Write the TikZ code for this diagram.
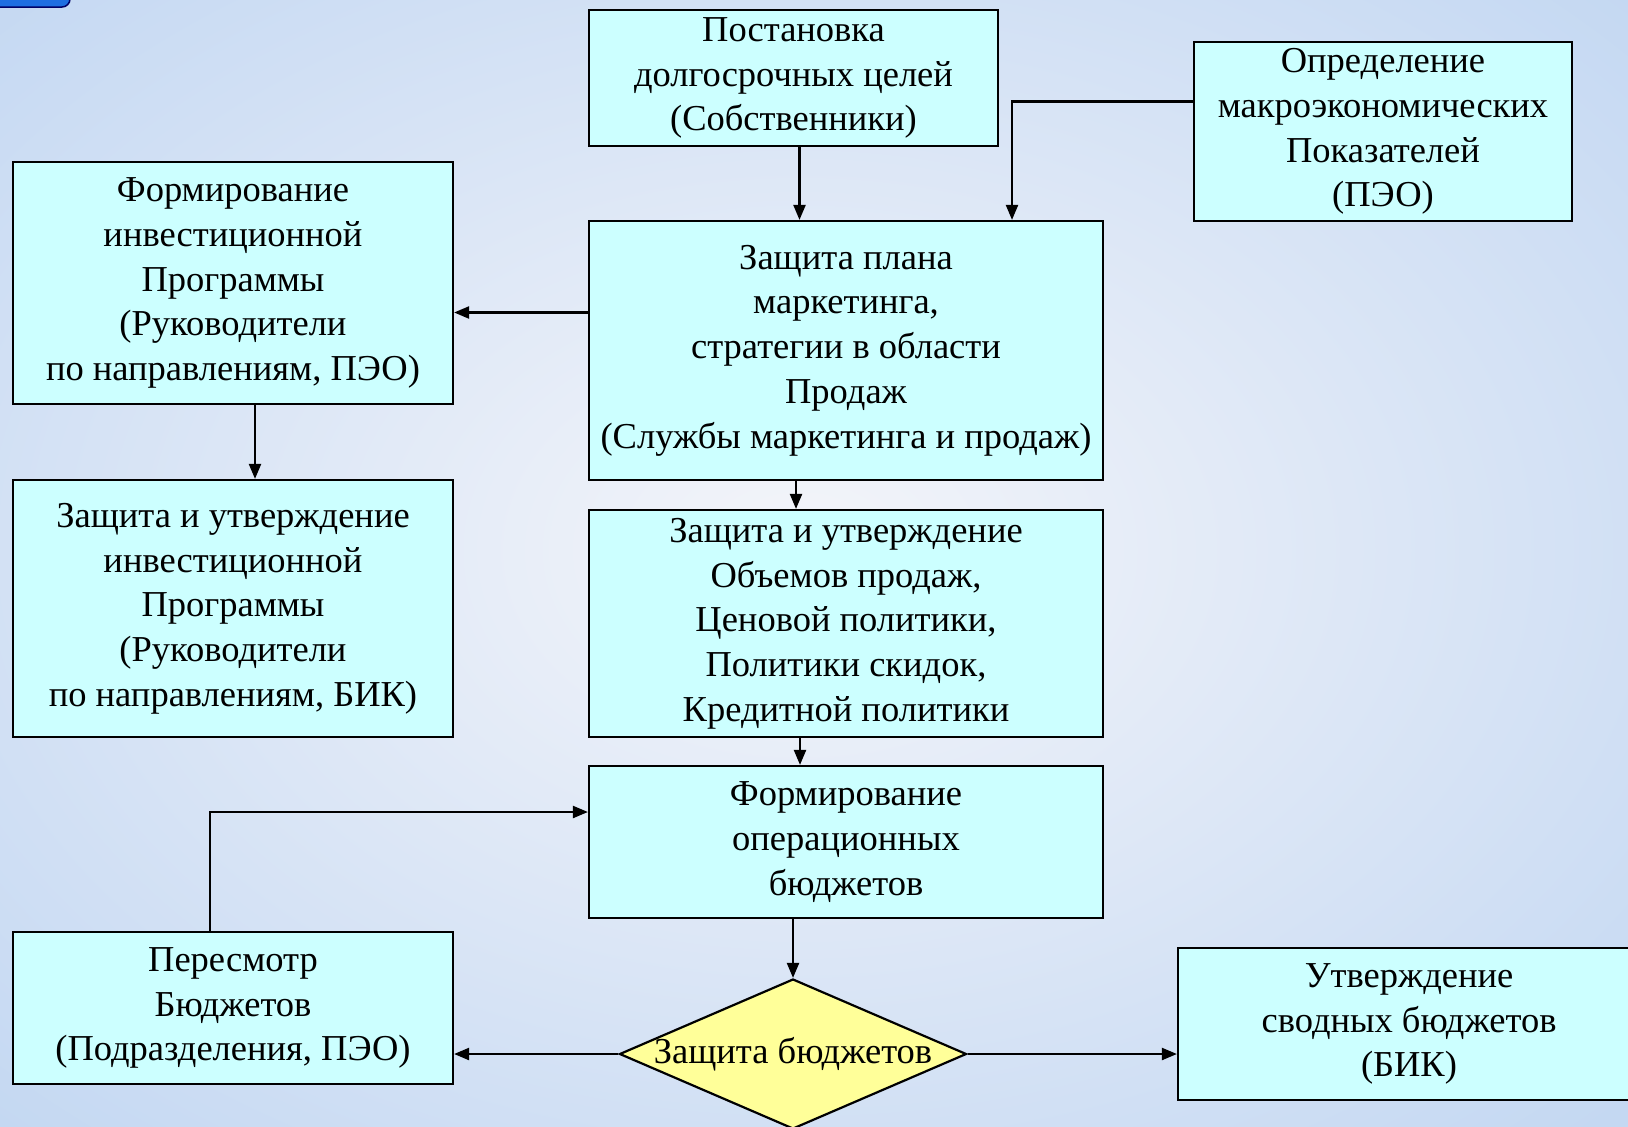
\documentclass[tikz,border=0pt]{standalone}
\usepackage{fontspec}
\setmainfont{Liberation Serif}
\usetikzlibrary{arrows.meta}
\usetikzlibrary{shapes.geometric}
\usepackage{xcolor}

\definecolor{boxcyan}{RGB}{204,255,255}
\definecolor{diayellow}{RGB}{255,255,153}
\definecolor{bgblue}{RGB}{196,216,242}
\definecolor{bgwhite}{RGB}{244,245,250}
\definecolor{blobblue}{RGB}{30,110,225}

\begin{document}
\begin{tikzpicture}[x=1pt, y=-1pt,
  stagebox/.style={draw, line width=2.2pt, fill=boxcyan, inner sep=0pt, align=center,
    font=\fontsize{36.5}{44.7}\selectfont},
  arr/.style={line width=2.2pt, -{Triangle[length=15pt,width=12pt]}}]

  \useasboundingbox (0,0) rectangle (1628,1127);
  \fill[bgblue] (0,0) rectangle (1628,1127);
  \shade[inner color=bgwhite, outer color=bgblue] (-350,-250) rectangle (1950,1350);
  \draw[fill=blobblue, draw=blue!40!black, line width=1.5pt, rounded corners=8pt] (-20,-20) rectangle (70,7);

  \node[stagebox, minimum width=409, minimum height=136] (post) at (793.5,78)
    {Постановка\\долгосрочных целей\\(Собственники)};
  \node[stagebox, minimum width=378, minimum height=179] (opr) at (1383,131.5)
    {Определение\\макроэкономических\\Показателей\\(ПЭО)};
  \node[stagebox, minimum width=440, minimum height=242] (forminv) at (233,283)
    {Формирование\\инвестиционной\\Программы\\(Руководители\\по направлениям, ПЭО)};
  \node[stagebox, minimum width=514, minimum height=259] (plan) at (846,350.5)
    {Защита плана\\маркетинга,\\стратегии в области\\Продаж\\(Службы маркетинга и продаж)};
  \node[stagebox, minimum width=440, minimum height=257] (zashinv) at (233,608.5)
    {Защита и утверждение\\инвестиционной\\Программы\\(Руководители\\по направлениям, БИК)};
  \node[stagebox, minimum width=514, minimum height=227] (obyem) at (846,623.5)
    {Защита и утверждение\\Объемов продаж,\\Ценовой политики,\\Политики скидок,\\Кредитной политики};
  \node[stagebox, minimum width=514, minimum height=152] (formop) at (846,842)
    {Формирование\\операционных\\бюджетов};
  \node[stagebox, minimum width=440, minimum height=152] (peresm) at (233,1008)
    {Пересмотр\\Бюджетов\\(Подразделения, ПЭО)};
  \node[stagebox, minimum width=462, minimum height=152] (utv) at (1409,1024)
    {Утверждение\\сводных бюджетов\\(БИК)};
  \node[diamond, draw, line width=2.2pt, fill=diayellow, inner sep=0pt,
    minimum width=347, minimum height=150] (dia) at (793,1054) {};
  \node[font=\fontsize{36.5}{44.7}\selectfont] (diatext) at (dia) {Защита бюджетов};

  \draw[arr] ([xshift=6pt]post.south) -- ([xshift=6pt]post.south |- plan.north);
  \draw[arr] ([yshift=30pt]opr.west) -| ([xshift=166pt]plan.north);
  \draw[arr] ([yshift=38pt]plan.west) -- ([yshift=38pt]plan.west -| forminv.east);
  \draw[arr] ([xshift=22pt]forminv.south) -- ([xshift=22pt]zashinv.north);
  \draw[arr] ([xshift=-50pt]plan.south) -- ([xshift=-50pt]obyem.north);
  \draw[arr] ([xshift=-46pt]obyem.south) -- ([xshift=-46pt]formop.north);
  \draw[arr] (formop.south -| dia.north) -- (dia.north);
  \draw[arr] ([xshift=-23pt]peresm.north) |- ([yshift=30pt]formop.west);
  \draw[arr] (dia.west) -- (dia.west -| peresm.east);
  \draw[arr] (dia.east) -- (dia.east -| utv.west);

\end{tikzpicture}
\end{document}
